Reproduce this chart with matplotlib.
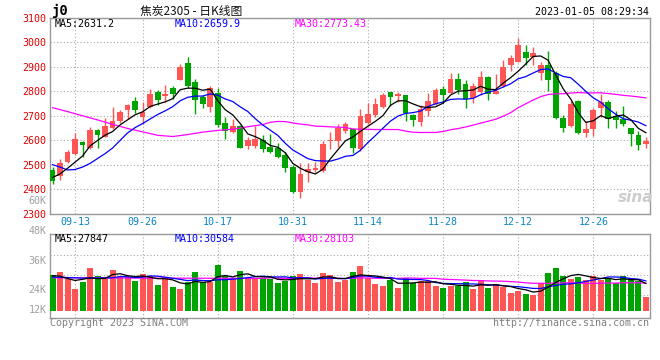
import numpy as np
import pandas as pd
import matplotlib
matplotlib.use("Agg")
import matplotlib.pyplot as plt

W, H = 660, 360

# daily bars 2022-09-07 .. 2023-01-05
opens = [2480, 2452, 2512, 2545, 2593, 2570, 2642, 2615, 2648, 2680,
         2725, 2760, 2696, 2735, 2797, 2780, 2813, 2846, 2917, 2839,
         2778, 2737, 2792, 2672, 2635, 2658, 2578, 2578, 2600, 2573,
         2569, 2539, 2491, 2387, 2470, 2478, 2472, 2598, 2597, 2638,
         2645, 2562, 2672, 2703, 2736, 2797, 2781, 2784, 2705, 2676,
         2718, 2750, 2808, 2795, 2849, 2828, 2771, 2798, 2860, 2791,
         2821, 2907, 2921, 2962, 2941, 2875, 2907, 2876, 2689, 2658,
         2760, 2630, 2646, 2730, 2756, 2697, 2685, 2648, 2621, 2583]
closes = [2435, 2507, 2550, 2605, 2580, 2640, 2620, 2657, 2680, 2716,
          2744, 2724, 2716, 2790, 2765, 2789, 2789, 2900, 2822, 2764,
          2747, 2812, 2662, 2638, 2658, 2570, 2601, 2605, 2564, 2552,
          2533, 2488, 2388, 2463, 2482, 2488, 2585, 2601, 2648, 2665,
          2569, 2698, 2707, 2748, 2783, 2778, 2789, 2710, 2682, 2726,
          2760, 2805, 2784, 2850, 2805, 2767, 2821, 2860, 2788, 2800,
          2898, 2935, 2989, 2937, 2955, 2907, 2846, 2690, 2651, 2748,
          2630, 2645, 2723, 2756, 2686, 2683, 2667, 2626, 2580, 2597]
highs = [2490, 2523, 2560, 2628, 2595, 2655, 2645, 2690, 2735, 2725,
         2748, 2778, 2757, 2808, 2806, 2826, 2822, 2910, 2942, 2850,
         2783, 2820, 2812, 2696, 2687, 2662, 2613, 2658, 2621, 2624,
         2590, 2553, 2498, 2505, 2505, 2512, 2597, 2635, 2666, 2675,
         2651, 2728, 2754, 2771, 2794, 2798, 2797, 2786, 2708, 2742,
         2794, 2815, 2820, 2876, 2875, 2848, 2835, 2884, 2862, 2870,
         2928, 2948, 3017, 2990, 2982, 2921, 2963, 2885, 2704, 2761,
         2763, 2679, 2730, 2790, 2763, 2720, 2738, 2650, 2638, 2612]
lows = [2420, 2438, 2505, 2540, 2530, 2565, 2570, 2612, 2645, 2672,
        2685, 2713, 2665, 2730, 2745, 2757, 2770, 2845, 2812, 2707,
        2733, 2717, 2656, 2605, 2628, 2566, 2564, 2569, 2553, 2548,
        2528, 2471, 2382, 2365, 2430, 2470, 2468, 2563, 2574, 2630,
        2549, 2555, 2668, 2695, 2732, 2740, 2755, 2680, 2660, 2658,
        2697, 2745, 2752, 2790, 2790, 2730, 2753, 2785, 2764, 2788,
        2818, 2885, 2918, 2907, 2908, 2846, 2801, 2688, 2633, 2655,
        2624, 2611, 2617, 2695, 2650, 2648, 2658, 2578, 2558, 2570]
vols = [36600, 39700, 32500, 22400, 29600, 44100, 35400, 34400, 41800, 34100,
        34100, 30600, 37700, 35300, 26300, 34400, 24300, 22400, 29200, 40000,
        28900, 28900, 47200, 35800, 32300, 40800, 33200, 33500, 33800, 32500,
        27900, 30400, 35600, 38000, 31500, 28700, 39000, 36600, 29700, 31200,
        40000, 46200, 33200, 27600, 25500, 31500, 22900, 33500, 28700, 30100,
        30400, 25600, 23500, 25600, 25000, 29400, 22200, 30400, 23200, 27700,
        23900, 18400, 20100, 16800, 16000, 28700, 39000, 44200, 35800, 32300,
        34900, 31500, 35400, 31200, 33300, 28100, 35600, 31200, 30400, 14100]

# start of the average lines (no history before 09-07)
ma5_head = [2447, 2462, 2485, 2510]
ma10_head = [2500, 2490, 2478, 2480, 2490, 2505, 2525, 2545, 2568]
ma30_head_idx = [0, 2, 4, 6, 8, 10, 12, 14, 16, 18, 20, 22, 24, 26, 28]
ma30_head = [2733, 2717, 2700, 2683, 2665, 2648, 2634, 2620, 2615, 2623,
             2633, 2640, 2645, 2655, 2664]
vma5_head = [36000, 35500, 33000, 31000]
vma10_head = [34500, 34300, 34000, 33800, 33500, 33500, 33500, 33600, 33800]
vma30_head_idx = [0, 7, 14, 21, 28]
vma30_head = [33800, 33600, 33400, 33300, 33200]

date_idx = [3, 12, 22, 32, 42, 52, 62, 72]
date_lbl = ["09-13", "09-26", "10-17", "10-31", "11-14", "11-28", "12-12", "12-26"]
price_ticks = [2300, 2400, 2500, 2600, 2700, 2800, 2900, 3000, 3100]
vol_lbl = ["48K", "36K", "24K", "12K"]
vol_lbl_y = [230.7, 260.7, 290, 310]

RED = "#ff5555"
GREEN = "#00a400"
GRID = "#a8a8a8"
FRAME = "#999999"
MONO = "DejaVu Sans Mono"
FS = 7.2


def ft(x, y, s, **kw):
    kw.setdefault("family", MONO)
    kw.setdefault("fontsize", FS)
    kw.setdefault("va", "center")
    fig.text(x / W, 1 - y / H, s, **kw)


def with_head(series, head_idx, head_vals, start):
    xs = list(head_idx) + list(range(start, len(series)))
    ys = list(head_vals) + list(series[start:])
    return xs, ys


fig = plt.figure(figsize=(W / 100, H / 100), dpi=100)
ax = fig.add_axes([50 / W, 1 - 213.5 / H, 600 / W, 195.5 / H])
axv = fig.add_axes([50 / W, 1 - 318 / H, 600 / W, 84 / H])

n = len(closes)
x = np.arange(n)
o = np.array(opens)
c = np.array(closes)
col = np.where(c >= o, RED, GREEN)

ax.vlines(x, lows, highs, colors=col, lw=1, zorder=3)
ax.bar(x, np.maximum(np.abs(c - o), 4), bottom=np.minimum(o, c), width=0.76,
       color=col, linewidth=0, zorder=4)

s = pd.Series(closes, dtype=float)
m5 = s.rolling(5).mean().values
m10 = s.rolling(10).mean().values
m30 = s.rolling(30).mean().values
for xs, ys, cc in [with_head(m30, ma30_head_idx, ma30_head, 29) + ("#ff00ff",),
                   with_head(m10, range(9), ma10_head, 9) + ("#0000ff",),
                   with_head(m5, range(4), ma5_head, 4) + ("#000000",)]:
    ax.plot(xs, ys, color=cc, lw=0.9, zorder=5)

ax.set_xlim(-0.333, 79.55)
ax.set_ylim(2300, 3100)
ax.set_yticks(price_ticks)
ax.set_yticklabels([str(t) for t in price_ticks], family=MONO, fontsize=FS, color="#e00000")
ax.set_xticks(date_idx)
ax.set_xticklabels(date_lbl, family=MONO, fontsize=FS, color="#0a84c8")
ax.tick_params(length=0, pad=2.6)
ax.grid(True, ls=(0, (1, 2)), color=GRID, lw=0.8, zorder=0)

# volume
v = np.array(vols)
axv.bar(x, v, width=0.8, color=col, linewidth=0, zorder=3)
sv = pd.Series(vols, dtype=float)
v5 = sv.rolling(5).mean().values
v10 = sv.rolling(10).mean().values
v30 = sv.rolling(30).mean().values
for xs, ys, cc in [with_head(v30, vma30_head_idx, vma30_head, 29) + ("#ff00ff",),
                   with_head(v10, range(9), vma10_head, 9) + ("#0000ff",),
                   with_head(v5, range(4), vma5_head, 4) + ("#000000",)]:
    axv.plot(xs, ys, color=cc, lw=0.9, zorder=5)
axv.set_xlim(-0.333, 79.55)
axv.set_ylim(-7740, 78950)
axv.set_yticks([57000, 36300, 15700])
axv.set_xticks(date_idx)
axv.set_xticklabels([])
axv.set_yticklabels([])
axv.tick_params(length=0)
axv.grid(True, ls=(0, (1, 2)), color=GRID, lw=0.8, zorder=0)

for a in (ax, axv):
    for sp in a.spines.values():
        sp.set_color(FRAME)
        sp.set_linewidth(1)

# header texts
ft(51, 11, "j0", fontsize=10, weight="bold")
ft(140, 11, "焦炭2305 - 日K线图", family=["Noto Sans CJK SC", MONO], fontsize=8.5, color="#111111")
ft(649, 12, "2023-01-05 08:29:34", ha="right")
ft(55, 24, "MA5:2631.2", color="#000000")
ft(175, 24, "MA10:2659.9", color="#0000ff")
ft(295, 24, "MA30:2773.43", color="#ff00ff")
ft(55, 238.5, "MA5:27847", color="#000000")
ft(175, 238.5, "MA10:30584", color="#0000ff")
ft(295, 238.5, "MA30:28103", color="#ff00ff")

ft(46.5, 200.7, "60K", ha="right", color="#a0a0a0")
for lb, yy in zip(vol_lbl, vol_lbl_y):
    ft(46.5, yy, lb, ha="right", color="#a0a0a0")

ft(50, 323.5, "Copyright 2023 SINA.COM", color="#808080")
ft(649, 323.5, "http://finance.sina.com.cn", ha="right", color="#808080")
ft(636, 197, "sina", ha="center", family="DejaVu Sans", fontsize=11,
   style="italic", weight="bold", color="#cccccc")

fig.savefig("out.png", dpi=100, facecolor="white")
